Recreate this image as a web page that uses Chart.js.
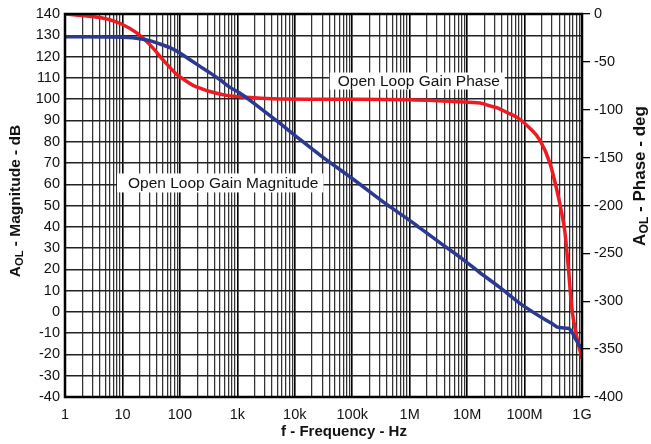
<!DOCTYPE html>
<html>
<head>
<meta charset="utf-8">
<script src="https://cdn.jsdelivr.net/npm/chart.js@4.4.1/dist/chart.umd.min.js"></script>
<style>
  html, body { margin: 0; padding: 0; background: #fff; }
  #wrap { width: 651px; height: 444px; position: relative; }
</style>
</head>
<body>
<div id="wrap"><canvas id="c"></canvas></div>
<script>
// ---- Data ----
const decades = [1, 10, 100, 1e3, 1e4, 1e5, 1e6, 1e7, 1e8, 1e9];
const xTickLabels = ['1', '10', '100', '1k', '10k', '100k', '1M', '10M', '100M', '1G'];
const magTicks = [-40, -30, -20, -10, 0, 10, 20, 30, 40, 50, 60, 70, 80, 90, 100, 110, 120, 130, 140];
const phaseTicks = [-400, -350, -300, -250, -200, -150, -100, -50, 0];

const magFreq = [1, 5, 10, 15, 20, 30, 45, 70, 100, 150, 224, 350, 500, 745, 1100, 2500, 5000, 10000, 27500, 100000, 398000, 1e6, 1.5e6, 3e6, 1e7, 1.68e7, 3.7e7, 8.3e7, 1.86e8, 3e8, 3.63e8, 4.5e8, 5.77e8, 6.5e8, 7.6e8, 9.3e8, 1e9];
const magDb = [129.3, 129.2, 129.1, 128.8, 128.4, 127.5, 125.9, 124, 121.7, 118.5, 115.4, 112, 109.1, 105.5, 102.9, 95.8, 89.5, 83, 73.7, 62.7, 50.5, 43, 39.5, 33.5, 23.2, 18.4, 11.5, 4, -2.2, -5.5, -7, -7.5, -7.7, -9, -12.4, -16.3, -17];

const phaseFreq = [1, 2.7, 6, 10, 18, 30, 51, 88, 125, 170, 250, 333, 650, 1450, 4000, 50000, 1e6, 3e6, 6.6e6, 1.68e7, 2.5e7, 3.7e7, 5e7, 7.4e7, 1.25e8, 1.86e8, 2.77e8, 3.88e8, 4.5e8, 5e8, 5.77e8, 6.61e8, 8.1e8, 1e9];
const phaseDeg = [0, -2.4, -6, -11, -20, -32, -48, -63, -69.5, -74.5, -78.5, -81, -85, -87, -88.5, -89, -89.5, -90.5, -91.6, -93, -96, -99, -103, -108, -119.5, -132, -156, -191, -210, -226, -264, -306, -337, -360];

const seriesNames = ['Open Loop Gain Magnitude', 'Open Loop Gain Phase'];
const yTitle = ['A', 'OL', ' - Magnitude - dB'];
const y1Title = ['A', 'OL', ' - Phase - deg'];
const xTitle = 'f - Frequency - Hz';

// ---- Chart ----
const FONT = "'Liberation Sans', Arial, Helvetica, sans-serif";
Chart.defaults.font.family = FONT;
Chart.defaults.font.size = 14.5;
Chart.defaults.color = '#111';

function isDecade(v) {
  return decades.findIndex(d => Math.abs(v - d) / d < 1e-6);
}

function drawTitle(ctx, parts, size) {
  const fMain = 'bold ' + size + 'px ' + FONT;
  const fSub = 'bold ' + (size * 0.72) + 'px ' + FONT;
  ctx.font = fMain; const w0 = ctx.measureText(parts[0]).width;
  ctx.font = fSub; const w1 = ctx.measureText(parts[1]).width;
  ctx.font = fMain; const w2 = ctx.measureText(parts[2]).width;
  const total = w0 + w1 + w2;
  let x = -total / 2;
  ctx.textBaseline = 'middle';
  ctx.textAlign = 'left';
  ctx.font = fMain; ctx.fillText(parts[0], x, 0); x += w0;
  ctx.font = fSub; ctx.fillText(parts[1], x, size * 0.28); x += w1;
  ctx.font = fMain; ctx.fillText(parts[2], x, 0);
}

const decorPlugin = {
  id: 'decor',
  beforeDatasetsDraw(chart) {
    const ctx = chart.ctx;
    const xs = chart.scales.x, ys = chart.scales.y;
    const labels = [
      { text: seriesNames[1], f: 5.6e4, v: 108.5, padL: 8, padR: 5, h: 17 },
      { text: seriesNames[0], f: 12.5, v: 60.6, padL: 11, padR: 5, h: 19 }
    ];
    ctx.save();
    ctx.font = '15.5px ' + FONT;
    labels.forEach(l => {
      const px = xs.getPixelForValue(l.f);
      const py = ys.getPixelForValue(l.v);
      const w = ctx.measureText(l.text).width;
      ctx.fillStyle = '#fff';
      ctx.fillRect(px - l.padL, py - l.h / 2, w + l.padL + l.padR, l.h);
      ctx.fillStyle = '#111';
      ctx.textBaseline = 'middle';
      ctx.textAlign = 'left';
      ctx.fillText(l.text, px, py + 1);
    });
    ctx.restore();
  },
  afterDraw(chart) {
    const ctx = chart.ctx;
    const a = chart.chartArea;
    ctx.save();
    ctx.strokeStyle = '#000';
    ctx.lineWidth = 2.5;
    ctx.strokeRect(a.left, a.top, a.right - a.left, a.bottom - a.top);
    ctx.fillStyle = '#111';
    ctx.save();
    ctx.translate(16, 201);
    ctx.rotate(-Math.PI / 2);
    drawTitle(ctx, yTitle, 15.5);
    ctx.restore();
    ctx.save();
    ctx.translate(640, 176);
    ctx.rotate(-Math.PI / 2);
    drawTitle(ctx, y1Title, 17);
    ctx.restore();
    ctx.font = 'bold 15px ' + FONT;
    ctx.textAlign = 'center';
    ctx.textBaseline = 'middle';
    ctx.fillText(xTitle, 344, 432);
    ctx.restore();
  }
};

new Chart(document.getElementById('c'), {
  type: 'line',
  data: {
    datasets: [
      {
        label: seriesNames[0],
        data: magFreq.map((f, i) => ({ x: f, y: magDb[i] })),
        yAxisID: 'y',
        borderColor: '#2b3990',
        borderWidth: 3.5,
        pointRadius: 0,
        cubicInterpolationMode: 'monotone',
        fill: false
      },
      {
        label: seriesNames[1],
        data: phaseFreq.map((f, i) => ({ x: f, y: phaseDeg[i] })),
        yAxisID: 'y1',
        borderColor: '#ed1c24',
        borderWidth: 3.5,
        pointRadius: 0,
        cubicInterpolationMode: 'monotone',
        fill: false
      }
    ]
  },
  options: {
    responsive: true,
    maintainAspectRatio: false,
    animation: false,
    layout: { padding: { top: 14, left: 0, right: 0, bottom: 0 } },
    plugins: { legend: { display: false }, tooltip: { enabled: false } },
    scales: {
      x: {
        type: 'logarithmic',
        min: decades[0],
        max: decades[decades.length - 1],
        afterBuildTicks(scale) {
          const t = [];
          for (let i = 0; i < decades.length - 1; i++) {
            for (let m = 1; m <= 9; m++) t.push({ value: decades[i] * m });
          }
          t.push({ value: decades[decades.length - 1] });
          scale.ticks = t;
        },
        afterFit(scale) { scale.height = 47; },
        ticks: {
          autoSkip: false,
          maxRotation: 0,
          padding: 9,
          callback(v) { const i = isDecade(v); return i >= 0 ? xTickLabels[i] : ''; }
        },
        grid: {
          drawTicks: false,
          color: (c) => (c.tick && isDecade(c.tick.value) >= 0 ? '#000' : '#333'),
          lineWidth: (c) => (c.tick && isDecade(c.tick.value) >= 0 ? 1.6 : 1.25)
        },
        border: { display: false }
      },
      y: {
        type: 'linear',
        position: 'left',
        min: magTicks[0],
        max: magTicks[magTicks.length - 1],
        afterBuildTicks(scale) { scale.ticks = magTicks.map(v => ({ value: v })); },
        afterFit(scale) { scale.width = 65; },
        ticks: { padding: 5 },
        grid: { drawTicks: false, color: '#222', lineWidth: 1.4 },
        border: { display: false }
      },
      y1: {
        type: 'linear',
        position: 'right',
        min: phaseTicks[0],
        max: phaseTicks[phaseTicks.length - 1],
        afterBuildTicks(scale) { scale.ticks = phaseTicks.map(v => ({ value: v })); },
        afterFit(scale) { scale.width = 69; },
        ticks: { padding: 4 },
        grid: { drawOnChartArea: false, drawTicks: true, tickLength: 8, color: '#000', lineWidth: 1.3 },
        border: { display: false }
      }
    }
  },
  plugins: [decorPlugin]
});
</script>
</body>
</html>
